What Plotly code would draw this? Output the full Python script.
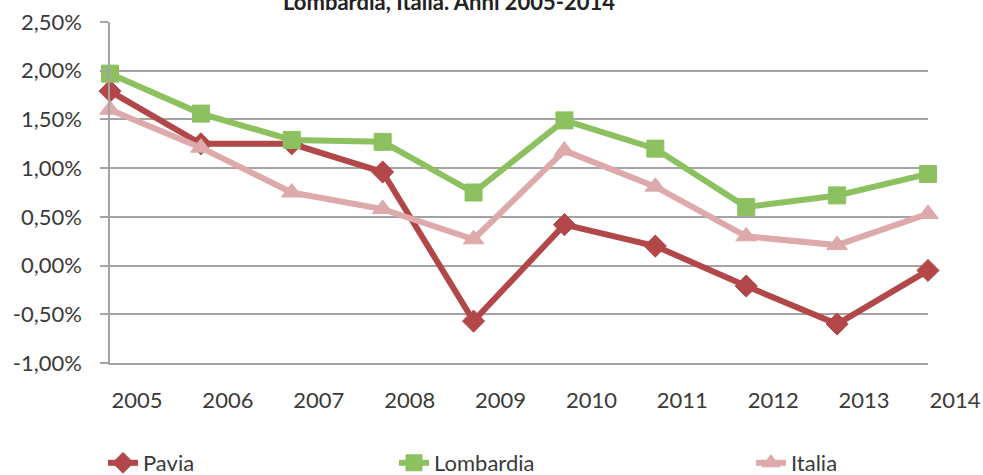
import plotly.graph_objects as go

# Population growth rates (%), 2005-2014
years = [2005, 2006, 2007, 2008, 2009, 2010, 2011, 2012, 2013, 2014]
year_labels = [str(y) for y in years]
pavia = [1.79, 1.25, 1.25, 0.96, -0.57, 0.42, 0.20, -0.21, -0.60, -0.05]
lombardia = [1.97, 1.56, 1.29, 1.27, 0.75, 1.49, 1.20, 0.60, 0.72, 0.94]
italia = [1.60, 1.21, 0.75, 0.58, 0.27, 1.18, 0.81, 0.30, 0.21, 0.53]
y_ticks = [-1.0, -0.5, 0.0, 0.5, 1.0, 1.5, 2.0, 2.5]
y_tick_labels = ["-1,00%", "-0,50%", "0,00%", "0,50%", "1,00%", "1,50%", "2,00%", "2,50%"]

W, H = 983, 475
L, R, T, B = 110, 55, 22, 112
plot_w, plot_h = W - L - R, H - T - B

def px_x(p):
    return (p - L) / plot_w

def px_y(p):
    return (H - B - p) / plot_h

FONT = "Lato"
TXT = "#3a3a3a"
GRID = "#A3A3A3"

series = [
    ("Pavia", pavia, "#B2474A", "diamond", 17, "legend"),
    ("Lombardia", lombardia, "#8DC160", "square", 17, "legend2"),
    ("Italia", italia, "#DDA9AA", "triangle-up", 18, "legend3"),
]

fig = go.Figure()
for name, vals, color, sym, size, lg in series:
    fig.add_trace(go.Scatter(
        x=years, y=vals, name=name, mode="lines+markers",
        line=dict(color=color, width=6),
        marker=dict(symbol=sym, size=size, color=color,
                    line=dict(color=color, width=1)),
        cliponaxis=False, legend=lg, showlegend=True,
    ))

legend_common = dict(orientation="h", xanchor="left", yanchor="middle",
                     xref="container", yref="container",
                     font=dict(family=FONT, size=22, color=TXT),
                     bgcolor="rgba(0,0,0,0)", borderwidth=0)
leg_y = 1 - 463 / H

fig.update_layout(
    width=W, height=H,
    margin=dict(l=L, r=R, t=T, b=B, autoexpand=False),
    paper_bgcolor="white", plot_bgcolor="white",
    font=dict(family=FONT, size=22, color=TXT),
    legend=dict(x=103 / W, y=leg_y, **legend_common),
    legend2=dict(x=394 / W, y=leg_y, **legend_common),
    legend3=dict(x=751 / W, y=leg_y, **legend_common),
    xaxis=dict(
        range=[years[0], years[-1]],
        tickvals=years, ticktext=year_labels,
        showgrid=False, zeroline=False,
        showline=True, linecolor=GRID, linewidth=1.5,
        ticks="", ticklabelshift=27, ticklabelstandoff=17,
        tickfont=dict(family=FONT, size=22, color=TXT),
        fixedrange=True,
    ),
    yaxis=dict(
        range=[y_ticks[0], y_ticks[-1]],
        tickvals=y_ticks, ticktext=y_tick_labels,
        showgrid=True, gridcolor=GRID, gridwidth=1.5,
        zeroline=False,
        showline=True, linecolor=GRID, linewidth=1.5,
        ticks="outside", ticklen=8, tickcolor=GRID, tickwidth=1.5,
        ticklabelstandoff=14,
        tickfont=dict(family=FONT, size=22, color=TXT),
        fixedrange=True,
    ),
    annotations=[dict(
        text="<b>Lombardia, Italia. Anni 2005-2014</b>",
        xref="paper", yref="paper", x=px_x(449), y=px_y(1),
        xanchor="center", yanchor="middle", showarrow=False,
        font=dict(family=FONT, size=22, color="#222222"),
    )],
)

fig.write_html("out.html")
